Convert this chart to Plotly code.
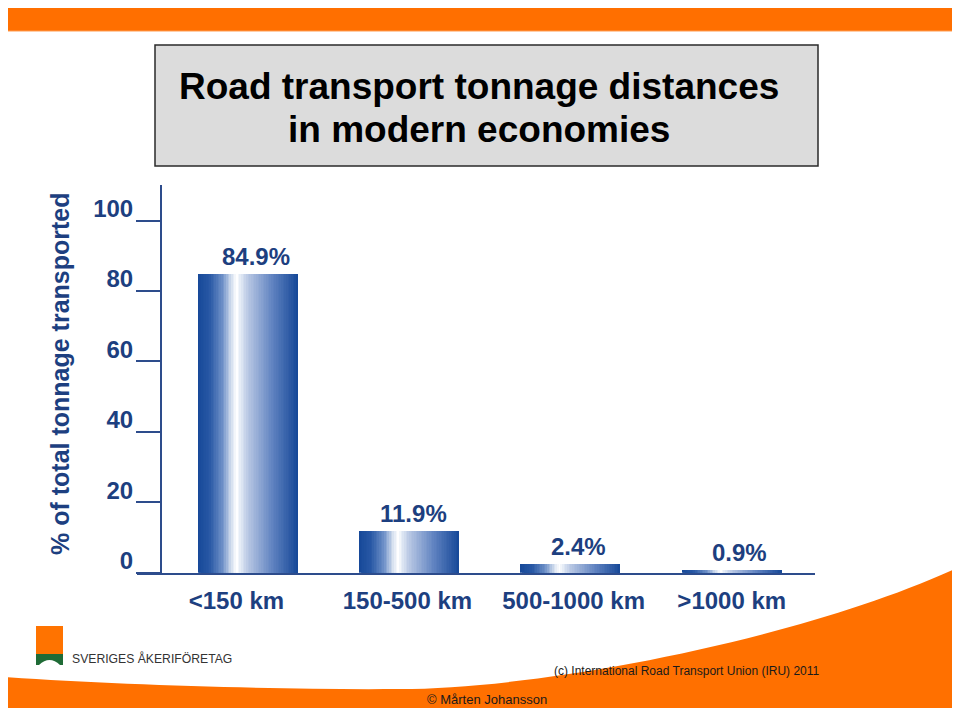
import plotly.graph_objects as go

# ---------------- data ----------------
categories = ["<150 km", "150-500 km", "500-1000 km", ">1000 km"]
shares = [84.9, 11.9, 2.4, 0.9]
value_labels = ["84.9%", "11.9%", "2.4%", "0.9%"]
y_tick_values = [0, 20, 40, 60, 80, 100]
y_tick_labels = ["0", "20", "40", "60", "80", "100"]
y_title = "% of total tonnage transported"
title_lines = ["Road transport tonnage distances", "in modern economies"]
source_text = "(c) International Road Transport Union (IRU) 2011"
author_text = "© Mårten Johansson"
logo_text = "SVERIGES ÅKERIFÖRETAG"

# ---------------- layout helpers ----------------
# The page body keeps the browser's 8px margin, so the figure is sized to
# fit exactly inside a 960x716 window and positions are given in window px.
OFF = 8
FW, FH = 960 - 2 * OFF, 716 - 2 * OFF


def px(x):
    return (x - OFF) / FW


def py(y):
    return 1 - (y - OFF) / FH


NAVY = "#1d3f80"
AXIS = "#2d4c8c"
ORANGE = "#ff6f00"
FONT = "Liberation Sans, Arial, Helvetica, sans-serif"

# small horizontal offsets of labels, as in the original slide
value_label_dx = [8, 4, 8, 8]
cat_label_dx = [-0.07, -0.01, 0.02, 0.0]

stops = [
    (0.00, (22, 72, 152)),
    (0.12, (40, 88, 165)),
    (0.25, (110, 145, 200)),
    (0.34, (215, 225, 240)),
    (0.39, (255, 255, 255)),
    (0.42, (232, 238, 247)),
    (0.50, (185, 200, 228)),
    (0.75, (95, 130, 192)),
    (1.00, (22, 72, 152)),
]


def grad(t):
    for (t0, c0), (t1, c1) in zip(stops[:-1], stops[1:]):
        if t0 <= t <= t1:
            f = (t - t0) / (t1 - t0)
            c = [round(a + (b - a) * f) for a, b in zip(c0, c1)]
            return "rgb(%d,%d,%d)" % tuple(c)
    return "rgb(%d,%d,%d)" % stops[-1][1]


xpos = list(range(len(categories)))
BW = 0.62
N = 60

fig = go.Figure()
# each bar is drawn as overlapping slices to give the horizontal gradient
for i in range(N):
    t0 = i / N
    fig.add_trace(go.Bar(
        x=xpos, y=shares,
        width=BW * (1 - t0), offset=-BW / 2 + BW * t0,
        marker=dict(color=grad((i + 0.5) / N), line=dict(width=0)),
        hoverinfo="skip", showlegend=False,
    ))

shapes = [
    # top orange band
    dict(type="rect", xref="paper", yref="paper", x0=px(2), x1=px(958),
         y0=py(31), y1=py(1), fillcolor=ORANGE,
         line=dict(color="#ff9c50", width=1), layer="below"),
    # title box
    dict(type="rect", xref="paper", yref="paper", x0=px(155), x1=px(818),
         y0=py(166), y1=py(45), fillcolor="#dcdcdc",
         line=dict(color="#2a2a2a", width=1.5), layer="below"),
    # bottom orange swoosh
    dict(type="path", xref="paper", yref="paper",
         path=("M %f,%f C %f,%f %f,%f %f,%f C %f,%f %f,%f %f,%f L %f,%f L %f,%f Z" % (
             px(3), py(677), px(120), py(685), px(280), py(690), px(400), py(689),
             px(540), py(689), px(800), py(640), px(957), py(568),
             px(957), py(712), px(3), py(712))),
         fillcolor="#ff7000", line=dict(width=0), layer="below"),
    # logo orange square
    dict(type="rect", xref="paper", yref="paper", x0=px(36), x1=px(63),
         y0=py(654), y1=py(626), fillcolor="#ff7300", line=dict(width=0)),
    # logo green arch
    dict(type="path", xref="paper", yref="paper",
         path=("M %f,%f L %f,%f L %f,%f L %f,%f Q %f,%f %f,%f L %f,%f Z" % (
             px(36), py(654), px(63), py(654), px(63), py(665), px(60), py(665),
             px(49.5), py(655), px(39), py(665), px(36), py(665))),
         fillcolor="#1f6b36", line=dict(width=0)),
]

annotations = [
    dict(text=title_lines[0], x=px(478.5), y=py(86), xref="paper", yref="paper",
         showarrow=False, xanchor="center", yanchor="middle",
         font=dict(size=37, color="black", family=FONT, weight="bold")),
    dict(text=title_lines[1], x=px(478.5), y=py(130), xref="paper", yref="paper",
         showarrow=False, xanchor="center", yanchor="middle",
         font=dict(size=37, color="black", family=FONT, weight="bold")),
    dict(text=y_title, x=px(60), y=py(374), xref="paper", yref="paper",
         showarrow=False, textangle=-90, xanchor="center", yanchor="middle",
         font=dict(size=25, color=NAVY, family=FONT, weight="bold")),
    dict(text=logo_text, x=px(70), y=py(658), xref="paper", yref="paper",
         showarrow=False, xanchor="left", yanchor="middle",
         font=dict(size=12.2, color="#333333", family=FONT)),
    dict(text=source_text, x=px(686.5), y=py(671), xref="paper", yref="paper",
         showarrow=False, xanchor="center", yanchor="middle",
         font=dict(size=12, color="#1a1a1a", family=FONT)),
    dict(text=author_text, x=px(486.5), y=py(699), xref="paper", yref="paper",
         showarrow=False, xanchor="center", yanchor="middle", borderpad=0,
         font=dict(size=13, color="#1a1a1a", family=FONT)),
]

# value labels above the bars, placed in data coordinates
for xv, yv, lab, dx in zip(xpos, shares, value_labels, value_label_dx):
    annotations.append(dict(
        text=lab, x=xv, y=yv, xref="x", yref="y", showarrow=False,
        xanchor="center", yanchor="bottom", xshift=dx, yshift=2,
        font=dict(size=24, color=NAVY, family=FONT, weight="bold")))

fig.update_layout(
    width=FW, height=FH,
    margin=dict(l=0, r=0, t=0, b=0),
    paper_bgcolor="white", plot_bgcolor="rgba(0,0,0,0)",
    barmode="overlay", bargap=0,
    showlegend=False,
    shapes=shapes, annotations=annotations,
    xaxis=dict(
        domain=[px(137), px(815)], range=[-0.686, 3.516],
        tickvals=[x + d for x, d in zip(xpos, cat_label_dx)], ticktext=categories,
        ticks="", showline=True, linecolor=AXIS, linewidth=2,
        showgrid=False, zeroline=False, anchor="y",
        tickfont=dict(size=24, color=NAVY, family=FONT, weight="bold"),
        ticklabelstandoff=5,
    ),
    yaxis=dict(
        domain=[py(572.7), py(185)], range=[0, 110.1],
        tickvals=y_tick_values, ticktext=y_tick_labels,
        ticks="outside", ticklen=24, tickwidth=2, tickcolor=AXIS,
        showline=True, linecolor=AXIS, linewidth=2,
        showgrid=False, zeroline=False, anchor="free", position=px(161),
        tickfont=dict(size=24, color=NAVY, family=FONT, weight="bold"),
        ticklabelshift=-12, ticklabelstandoff=-2,
    ),
)

fig.write_html("out.html", config={"displayModeBar": False})
